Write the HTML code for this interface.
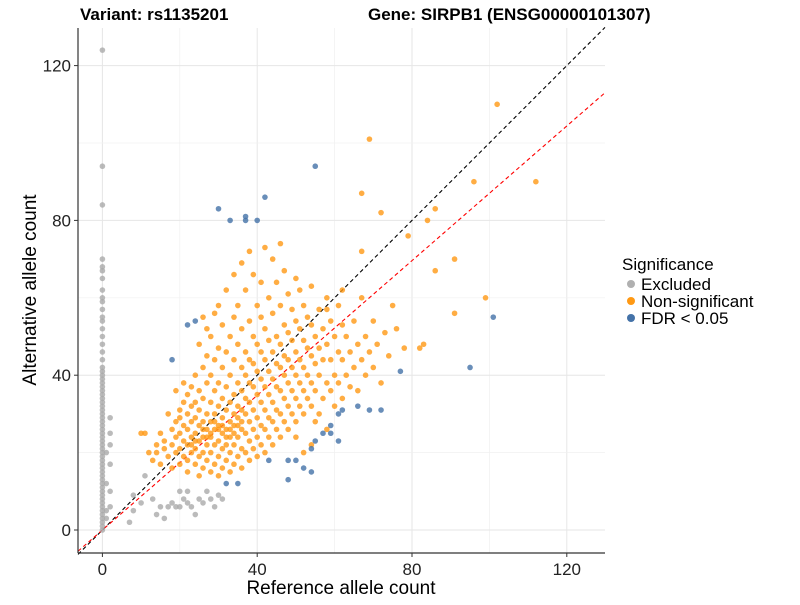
<!DOCTYPE html>
<html><head><meta charset="utf-8"><style>
body{margin:0;background:#fff;font-family:"Liberation Sans",Arial,sans-serif}
</style></head><body>
<svg id="chart" width="800" height="600" xmlns="http://www.w3.org/2000/svg" font-family="Liberation Sans, Arial, sans-serif">
<rect width="800" height="600" fill="#fff"/>
<g id="grid"></g>
<g id="lines"></g>
<g id="pts"></g>
<g id="axes"></g>
<text x="80" y="20" font-size="17" font-weight="bold">Variant: rs1135201</text>
<text x="368" y="20" font-size="17" font-weight="bold">Gene: SIRPB1 (ENSG00000101307)</text>
<text x="341" y="594" font-size="19" text-anchor="middle">Reference allele count</text>
<text transform="translate(36,290) rotate(-90)" font-size="19" text-anchor="middle">Alternative allele count</text>
<g font-size="17">
<text x="622" y="270">Significance</text>
<circle cx="631" cy="284" r="4" fill="#b0b0b0"/>
<text x="641" y="290">Excluded</text>
<circle cx="631" cy="301" r="4" fill="#ff9914"/>
<text x="641" y="307">Non-significant</text>
<circle cx="631" cy="318" r="4" fill="#4472a8"/>
<text x="641" y="324">FDR &lt; 0.05</text>
</g>
</svg>
<script>
const xTicks=[0,40,80,120];
const yTicks=[0,40,80,120];
const xMinor=[20,60,100];
const yMinor=[20,60,100];
const redSlope=0.87;
const excludedPts="0,0 0,1 0,2 0,3 0,4 0,5 0,6 0,7 0,8 0,9 0,10 0,11 0,12 0,13 0,14 0,15 0,16 0,17 0,18 0,19 0,20 0,21 0,22 0,23 0,24 0,25 0,26 0,27 0,28 0,29 0,30 0,31 0,32 0,33 0,34 0,35 0,36 0,37 0,38 0,39 0,40 0,41 0,42 0,44 0,46 0,48 0,50 0,52 0,54 0,55 0,57 0,59 0,60 0,62 0,65 0,67 0,68 0,70 0,84 0,94 0,124 1,3 2,10 2,17 1,5 2,22 2,25 1,12 2,6 1,20 2,29 8,9 14,4 7,2 8,5 10,7 11,14 13,8 15,6 17,6 18,7 19,6 20,10 21,8 22,10 23,6 24,4 25,8 26,7 27,10 28,8 29,6 30,9 31,8 16,3 20,6 22,7";
const nonsigPts="10,25 11,25 12,20 13,18 14,20 14,22 15,17 15,25 16,21 16,23 17,19 17,30 18,16 18,22 18,26 19,20 19,24 19,28 19,36 20,17 20,21 20,25 20,29 20,31 21,19 21,23 21,27 21,33 21,38 22,15 22,18 22,22 22,26 22,30 22,35 23,20 23,24 23,28 23,32 23,37 24,17 24,21 24,25 24,29 24,33 24,40 25,14 25,19 25,23 25,27 25,31 25,36 25,48 26,16 26,20 26,24 26,28 26,34 26,42 26,55 27,18 27,22 27,26 27,30 27,38 27,45 27,52 28,15 28,20 28,24 28,28 28,33 28,40 28,50 29,17 29,22 29,26 29,30 29,36 29,44 29,56 30,14 30,19 30,23 30,27 30,32 30,38 30,47 30,58 31,16 31,21 31,25 31,29 31,34 31,42 31,53 32,18 32,22 32,26 32,31 32,37 32,46 32,62 33,15 33,20 33,24 33,28 33,33 33,40 33,50 34,17 34,22 34,27 34,30 34,35 34,44 34,55 34,66 35,19 35,24 35,29 35,32 35,38 35,48 35,58 36,16 36,21 36,26 36,31 36,36 36,42 36,52 36,69 37,20 37,25 37,30 37,34 37,40 37,46 37,62 38,18 38,23 38,28 38,33 38,38 38,44 38,54 38,72 39,21 39,26 39,31 39,37 39,43 39,50 39,66 40,19 40,24 40,29 40,35 40,41 40,48 40,58 41,22 41,27 41,33 41,39 41,46 41,55 41,64 42,20 42,26 42,31 42,37 42,44 42,52 42,73 43,24 43,29 43,35 43,41 43,49 43,60 44,22 44,28 44,33 44,39 44,46 44,56 44,70 45,26 45,31 45,37 45,43 45,50 45,64 46,24 46,30 46,36 46,42 46,48 46,58 46,74 47,28 47,34 47,40 47,45 47,53 47,67 48,26 48,32 48,38 48,44 48,51 48,61 49,30 49,36 49,42 49,49 49,57 50,24 50,28 50,34 50,40 50,46 50,54 50,65 51,32 51,38 51,44 51,52 51,62 52,20 52,30 52,36 52,42 52,49 52,58 53,34 53,40 53,47 53,55 54,22 54,32 54,38 54,45 54,53 54,63 55,28 55,36 55,43 55,50 56,30 56,40 56,47 56,57 57,34 57,44 57,52 58,26 58,38 58,48 58,60 59,36 59,44 59,54 60,32 60,40 60,50 61,38 61,46 61,58 62,34 62,44 62,53 63,40 63,50 64,37 64,46 65,42 65,54 66,36 66,48 67,44 67,60 68,40 68,50 69,46 70,42 70,54 71,48 72,38 73,51 74,45 76,52 78,47 102,110 69,101 96,90 112,90 67,87 86,83 72,82 84,80 79,76 91,70 86,67 99,60 91,56 75,58 83,48 82,47 62,62 58,57 67,72 30,26 28,25 27,24 26,26 29,28 31,27 32,24 24,23 23,22 33,26 34,25 35,27 36,28";
const fdrPts="30,83 33,80 37,81 37,80 40,80 42,86 55,94 101,55 95,42 77,41 22,53 24,54 18,44 43,18 48,18 50,18 52,16 54,15 48,13 32,12 35,12 54,21 55,23 59,27 57,25 61,30 59,25 61,23 66,32 69,31 72,31 62,31";
const X0=102.4,Y0=530,S=3.87;
const xs=v=>X0+v*S, ys=v=>Y0-v*S;
const NS="http://www.w3.org/2000/svg";
function mk(t,a,p){const e=document.createElementNS(NS,t);for(const k in a)e.setAttribute(k,a[k]);p.appendChild(e);return e;}
const L=78,R=605,T=28,B=553;
const grid=document.getElementById('grid');
xMinor.concat(xTicks).forEach(v=>{const e=mk('line',{x1:xs(v),x2:xs(v),y1:T,y2:B,stroke:xTicks.includes(v)?'#e6e6e6':'#f0f0f0','stroke-width':xTicks.includes(v)?1:0.7},grid);

});
yMinor.concat(yTicks).forEach(v=>{const e=mk('line',{x1:L,x2:R,y1:ys(v),y2:ys(v),stroke:yTicks.includes(v)?'#e6e6e6':'#f0f0f0','stroke-width':yTicks.includes(v)?1:0.7},grid);

});
const pts=document.getElementById('pts');
function draw(str,col,name){str.trim().split(/\s+/).forEach(p=>{const [a,b]=p.split(',').map(Number);const c=mk('circle',{cx:xs(a),cy:ys(b),r:2.8,fill:col,'fill-opacity':0.8},pts);

});}
draw(excludedPts,'#aaaaaa','excluded-point');
draw(nonsigPts,'#ff9914','nonsignificant-point');
draw(fdrPts,'#4472a8','fdr-point');
const lines=document.getElementById('lines');
const xa=(L-X0)/S,xb=(R-X0)/S;
const bl=mk('line',{x1:xs(xa),y1:ys(xa),x2:xs(xb),y2:ys(xb),stroke:'#000','stroke-dasharray':'4,3','stroke-width':1.1},lines);


const rl=mk('line',{x1:xs(xa),y1:ys(xa*redSlope),x2:xs(xb),y2:ys(xb*redSlope),stroke:'#ff0000','stroke-dasharray':'4,3','stroke-width':1.1},lines);


document.querySelectorAll('#lines line').forEach(l=>l.setAttribute('clip-path','none'));
const ax=document.getElementById('axes');
const a1=mk('line',{x1:L,y1:T,x2:L,y2:B,stroke:'#333','stroke-width':1.2},ax);


const a2=mk('line',{x1:L,y1:B,x2:R,y2:B,stroke:'#333','stroke-width':1.2},ax);


xTicks.forEach(v=>{mk('line',{x1:xs(v),x2:xs(v),y1:B,y2:B+4,stroke:'#333'},ax);const t=mk('text',{x:xs(v),y:B+22,'font-size':17,'text-anchor':'middle',fill:'#222'},ax);t.textContent=v;

});
yTicks.forEach(v=>{mk('line',{x1:L-4,x2:L,y1:ys(v),y2:ys(v),stroke:'#333'},ax);const t=mk('text',{x:L-7,y:ys(v)+6,'font-size':17,'text-anchor':'end',fill:'#222'},ax);t.textContent=v;

});
</script>
</body></html>
